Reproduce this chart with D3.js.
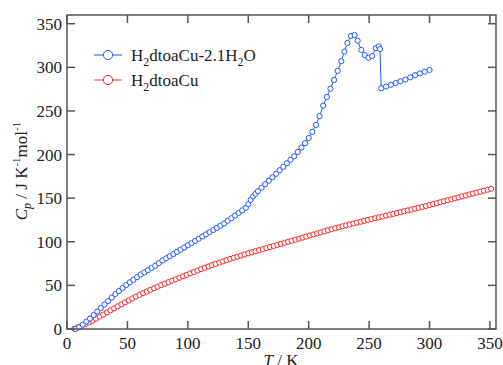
<!DOCTYPE html>
<html>
<head>
<meta charset="utf-8">
<script src="https://cdn.jsdelivr.net/npm/d3@7"></script>
<style>
  html, body { margin: 0; padding: 0; background: #fff; }
  svg { display: block; }
</style>
</head>
<body>
<svg id="chart" width="503" height="365"></svg>
<script>
// H2dtoaCu-2.1H2O (blue)
const hydrateT = [7, 10, 13, 16, 19, 22, 25, 28, 31, 34, 37, 40, 43, 46, 49, 52, 55, 58, 61, 64,
  67, 70, 73, 76, 79, 82, 85, 88, 91, 94, 97, 100, 103, 106, 109, 112, 115, 118, 121, 124,
  127, 130, 133, 136, 139, 142, 145, 148, 150, 152, 154, 156, 158, 161, 164, 167, 170, 173, 176, 179,
  182, 185, 188, 191, 194, 197, 200, 203, 206, 209, 212, 215, 218, 221, 224, 227, 229.5, 232, 235, 238,
  240.5, 243.5, 246.5, 249.5, 252.5, 255.5, 258, 259, 260, 264, 268, 272, 276, 280, 284, 288, 292, 296, 300];
const hydrateCp = [0, 2, 5, 8.5, 12, 16, 20, 24, 28, 32, 36, 40, 43.5, 47, 50.5, 53.5, 56.5, 59.5, 62.5, 65,
  67.5, 70, 72.5, 75.5, 78.5, 81, 83.5, 86, 88.5, 91, 93.5, 96, 98.5, 101, 103.5, 106, 108.5, 111, 113.5, 116,
  118.5, 121, 124, 127, 130, 133, 136, 139, 143, 148, 152, 155, 158, 162, 166, 170, 174, 178, 182, 186,
  190, 194, 198, 203, 208, 213, 219, 226, 234, 244, 256, 266, 275.5, 285.5, 296, 307, 318, 328, 336, 337,
  330.5, 320, 314, 311, 313, 322, 324, 321, 276, 278, 280, 282, 284, 286, 288.5, 291, 293, 295, 297];

// H2dtoaCu (red)
const anhydT = [6, 9, 12, 15, 18, 21, 24, 27, 30, 33, 36, 39, 42, 45, 48, 51, 54, 57, 60, 63,
  66, 69, 72, 75, 78, 81, 84, 87, 90, 93, 96, 99, 102, 105, 108, 111, 114, 117, 120, 123,
  126, 129, 132, 135, 138, 141, 144, 147, 150, 153, 156, 159, 162, 165, 168, 171, 174, 177, 180, 183,
  186, 189, 192, 195, 198, 201, 204, 207, 210, 213, 216, 219, 222, 225, 228, 231, 234, 237, 240, 243,
  246, 249, 252, 255, 258, 261, 264, 267, 270, 273, 276, 279, 282, 285, 288, 291, 294, 297, 300, 303,
  306, 309, 312, 315, 318, 321, 324, 327, 330, 333, 336, 339, 342, 345, 348, 351];
const anhydCp = [0.3, 1.8, 3.6, 5.5, 7.5, 9.5, 11.8, 14.2, 16.6, 19, 21.4, 23.7, 26, 28.3, 30.6, 32.8, 35, 37.1, 39.1, 41.1,
  43, 44.9, 46.7, 48.5, 50.3, 52, 53.7, 55.4, 57.1, 58.8, 60.4, 62.1, 63.8, 65.4, 67, 68.7, 70.2, 71.7, 73.2, 74.7,
  76.1, 77.5, 78.9, 80.3, 81.6, 82.9, 84.2, 85.5, 86.8, 88, 89.2, 90.4, 91.6, 92.8, 94, 95.2, 96.4, 97.6, 98.8, 100,
  101.2, 102.4, 103.6, 104.8, 106, 107.2, 108.4, 109.6, 110.8, 112, 113.2, 114.4, 115.5, 116.6, 117.7, 118.8, 119.9, 121, 122, 123,
  124, 125, 126, 127, 128, 129, 130, 131, 132, 133, 134, 135, 136, 137, 138, 139, 140, 141, 142.1, 143.2,
  144.3, 145.4, 146.5, 147.6, 148.7, 149.8, 150.9, 152, 153.1, 154.2, 155.3, 156.4, 157.5, 158.6, 159.7, 160.8];

const xTicks = [0, 50, 100, 150, 200, 250, 300, 350];
const yTicks = [0, 50, 100, 150, 200, 250, 300, 350];

const BLUE = '#2158ff';
const RED = '#ff2424';
const AXIS = '#555';
const FONT = '"Liberation Serif", "Times New Roman", Times, serif';

const W = 503, H = 365;
const margin = { top: 15, right: 7, bottom: 36, left: 67 };

const svg = d3.select('#chart').attr('font-family', FONT);
const x = d3.scaleLinear().domain([0, 355]).range([margin.left, W - margin.right]);
const y = d3.scaleLinear().domain([0, 360]).range([H - margin.bottom, margin.top]);

const series = [
  { name: 'hydrate', color: BLUE, pts: hydrateT.map((t, i) => [t, hydrateCp[i]]) },
  { name: 'anhyd', color: RED, pts: anhydT.map((t, i) => [t, anhydCp[i]]) },
];

const line = d3.line().x(d => x(d[0])).y(d => y(d[1]));

// draw red first, blue on top
[series[1], series[0]].forEach(s => {
  const g = svg.append('g');
  g.append('path')
    .datum(s.pts)
    .attr('d', line)
    .attr('fill', 'none')
    .attr('stroke', s.color)
    .attr('stroke-width', 1);
  g.selectAll('circle')
    .data(s.pts)
    .join('circle')
    .attr('cx', d => x(d[0]))
    .attr('cy', d => y(d[1]))
    .attr('r', 2.6)
    .attr('fill', '#fff')
    .attr('stroke', s.color)
    .attr('stroke-width', 1);
});

// frame + inward ticks
const TL = 8;
const axes = svg.append('g').attr('stroke', AXIS).attr('stroke-width', 1.5);
axes.append('rect')
  .attr('x', margin.left).attr('y', margin.top)
  .attr('width', W - margin.left - margin.right)
  .attr('height', H - margin.top - margin.bottom)
  .attr('fill', 'none');
xTicks.forEach(t => {
  axes.append('line').attr('x1', x(t)).attr('x2', x(t)).attr('y1', y(0)).attr('y2', y(0) - TL);
  axes.append('line').attr('x1', x(t)).attr('x2', x(t)).attr('y1', margin.top).attr('y2', margin.top + TL);
});
yTicks.forEach(t => {
  axes.append('line').attr('x1', margin.left).attr('x2', margin.left + TL).attr('y1', y(t)).attr('y2', y(t));
  axes.append('line').attr('x1', W - margin.right).attr('x2', W - margin.right - TL).attr('y1', y(t)).attr('y2', y(t));
});

// tick labels
svg.append('g').selectAll('text')
  .data(xTicks)
  .join('text')
  .attr('x', d => x(d))
  .attr('y', y(0) + 20)
  .attr('text-anchor', 'middle')
  .attr('font-size', 17)
  .attr('fill', '#222')
  .text(d => d);

svg.append('g').selectAll('text')
  .data(yTicks)
  .join('text')
  .attr('x', margin.left - 5)
  .attr('y', d => y(d) + 6)
  .attr('text-anchor', 'end')
  .attr('font-size', 17)
  .attr('fill', '#222')
  .text(d => d);

// axis titles
const xt = svg.append('text')
  .attr('x', 281).attr('y', 366)
  .attr('text-anchor', 'middle')
  .attr('font-size', 17)
  .attr('fill', '#222');
xt.append('tspan').attr('font-style', 'italic').text('T');
xt.append('tspan').text(' / K');

const yt = svg.append('text')
  .attr('transform', 'translate(27,171) rotate(-90)')
  .attr('text-anchor', 'middle')
  .attr('font-size', 17)
  .attr('fill', '#222');
yt.append('tspan').attr('font-style', 'italic').text('C');
yt.append('tspan').attr('font-style', 'italic').attr('font-size', 12).attr('dy', 4).text('p');
yt.append('tspan').attr('dy', -4).text(' / J K');
yt.append('tspan').attr('font-size', 11).attr('dy', -7).text('-1');
yt.append('tspan').attr('dy', 7).text('mol');
yt.append('tspan').attr('font-size', 11).attr('dy', -7).text('-1');

// legend
const legend = [
  { color: BLUE, parts: [['H', 0], ['2', 1], ['dtoaCu-2.1H', 0], ['2', 1], ['O', 0]] },
  { color: RED, parts: [['H', 0], ['2', 1], ['dtoaCu', 0]] },
];
legend.forEach((l, i) => {
  const ly = 55 + i * 25;
  svg.append('line')
    .attr('x1', 94).attr('x2', 122).attr('y1', ly).attr('y2', ly)
    .attr('stroke', l.color).attr('stroke-width', 1);
  svg.append('circle')
    .attr('cx', 108).attr('cy', ly).attr('r', 4.6)
    .attr('fill', '#fff').attr('stroke', l.color).attr('stroke-width', 1);
  const txt = svg.append('text')
    .attr('x', 131).attr('y', ly + 6)
    .attr('font-size', 17)
    .attr('fill', '#222');
  let prevSub = 0;
  l.parts.forEach(([s, sub]) => {
    const ts = txt.append('tspan').text(s);
    if (sub) ts.attr('font-size', 12);
    ts.attr('dy', (sub - prevSub) * 5);
    prevSub = sub;
  });
});
</script>
</body>
</html>
